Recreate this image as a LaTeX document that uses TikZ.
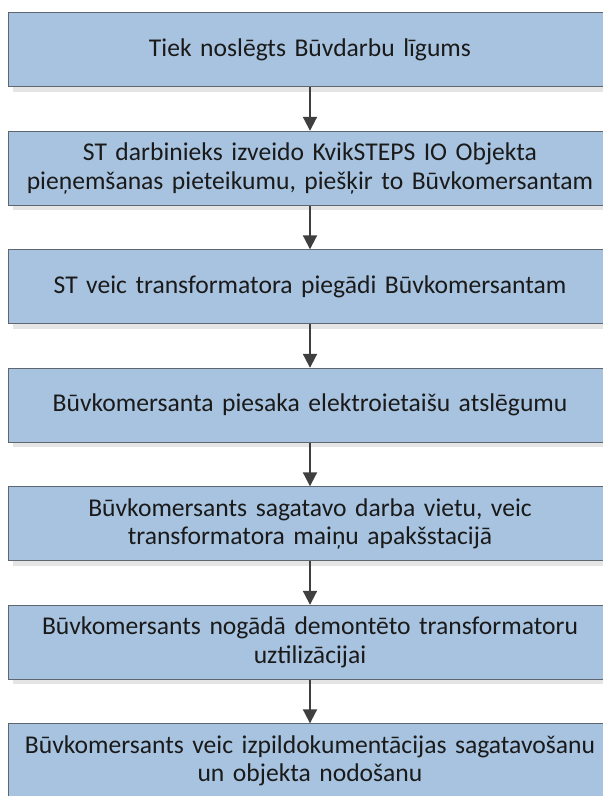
\documentclass[tikz,border=0pt]{standalone}
\usepackage{fontspec}
\setmainfont{Carlito}
\usetikzlibrary{positioning,shadows,arrows.meta}
\definecolor{boxfill}{HTML}{A7C3DF}
\definecolor{boxline}{HTML}{5E6670}
\definecolor{arrowgray}{HTML}{3F3F3F}
\definecolor{textdark}{HTML}{1A1A1A}

\begin{document}
\begin{tikzpicture}[x=1pt,y=1pt,node distance=43.5pt]
\tikzstyle{stage} = [rectangle, minimum width=598pt, minimum height=74pt, text width=596pt, align=center, draw=boxline, line width=1pt, fill=boxfill, text=textdark, font=\fontsize{25.6}{28.5}\selectfont, drop shadow={shadow xshift=4pt, shadow yshift=-5pt, fill=black!10, opacity=1}]
\tikzstyle{arrow} = [line width=2pt, draw=arrowgray, -{Triangle[width=14pt,length=14pt,fill=arrowgray]}]

\useasboundingbox (0,0) rectangle (603,-796);

\node (stage1) [stage] at (310,-49.8) {Tiek noslēgts Būvdarbu līgums};
\node (stage2) [stage, below=of stage1] {ST darbinieks izveido KvikSTEPS IO Objekta\\pieņemšanas pieteikumu, piešķir to Būvkomersantam};
\node (stage3) [stage, below=of stage2] {ST veic transformatora piegādi Būvkomersantam};
\node (stage4) [stage, below=of stage3] {Būvkomersanta piesaka elektroietaišu atslēgumu};
\node (stage5) [stage, below=of stage4] {Būvkomersants sagatavo darba vietu, veic\\transformatora maiņu apakšstacijā};
\node (stage6) [stage, below=of stage5] {Būvkomersants nogādā demontēto transformatoru\\uztilizācijai};
\node (stage7) [stage, below=of stage6] {Būvkomersants veic izpildokumentācijas sagatavošanu\\un objekta nodošanu};

\foreach \i/\j in {1/2,2/3,3/4,4/5,5/6,6/7}
{
\draw [arrow] (stage\i) -- (stage\j);
}

\end{tikzpicture}
\end{document}
